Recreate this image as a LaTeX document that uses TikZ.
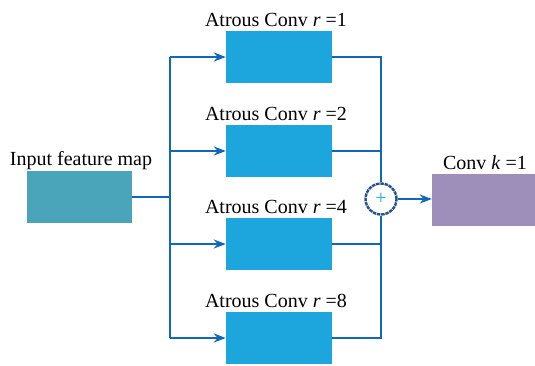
\documentclass[tikz,border=0pt]{standalone}
\usepackage{fontspec}
\setmainfont{Liberation Serif}
\usetikzlibrary{arrows.meta,shapes.geometric}
\definecolor{lineblue}{HTML}{1268B8}
\definecolor{ringblue}{HTML}{25528E}
\definecolor{atrousfill}{HTML}{1DA6DE}
\definecolor{inputfill}{HTML}{4AA5BA}
\definecolor{convfill}{HTML}{9D8FBA}
\begin{document}
\begin{tikzpicture}[x=1pt,y=-1pt,
  box/.style={draw=none,minimum width=106pt,minimum height=52pt,inner sep=0pt},
  atr/.style={box,fill=atrousfill},
  lbl/.style={font=\fontsize{20}{22}\selectfont,inner sep=0pt,anchor=base},
  ln/.style={draw=lineblue,line width=2.9pt},
  arr/.style={ln,-{Stealth[length=12pt,width=9pt]}}]
\useasboundingbox (0,0) rectangle (535,365);
% boxes
\node[box,fill=inputfill,minimum width=105pt] (in) at (79.5,197) {};
\node[atr] (a1) at (279,57) {};
\node[atr] (a2) at (279,151) {};
\node[atr] (a3) at (279,244) {};
\node[atr] (a4) at (279,338) {};
\node[box,fill=convfill,minimum width=104pt] (conv) at (484,200) {};
% labels
\node[lbl] (lin) at (81,165) {Input feature map};
\node[lbl] (l1) at (276,26) {Atrous Conv \textit{r} =1};
\node[lbl] (l2) at (276,120) {Atrous Conv \textit{r} =2};
\node[lbl] (l3) at (276,213) {Atrous Conv \textit{r} =4};
\node[lbl] (l4) at (276,307) {Atrous Conv \textit{r} =8};
\node[lbl] (lc) at (485,169) {Conv \textit{k} =1};
% sum
\node[circle,draw=ringblue,line width=2.4pt,dash pattern=on 3.5pt off 0.8pt,minimum size=31pt,inner sep=0pt,fill=white,text=atrousfill,font=\fontsize{20}{20}\selectfont] (sum) at (381,199) {+};
% trunk
\coordinate (j1) at (170,57);
\coordinate (j2) at (170,151);
\coordinate (j3) at (170,244);
\coordinate (j4) at (170,338);
\draw[ln] (in.east) -- (in.east -| j1);
\draw[ln] (j1) -- (j4);
\draw[arr] (j1) -- (a1.west);
\draw[arr] (j2) -- (a2.west);
\draw[arr] (j3) -- (a3.west);
\draw[arr] (j4) -- (a4.west);
% merge
\draw[ln] (a1.east) -| (sum.north);
\draw[ln] (a2.east) -| (sum.north);
\draw[ln] (a3.east) -| (sum.south);
\draw[ln] (a4.east) -| (sum.south);
\draw[arr] (sum.east) -- (sum.east -| conv.west);
\end{tikzpicture}
\end{document}
